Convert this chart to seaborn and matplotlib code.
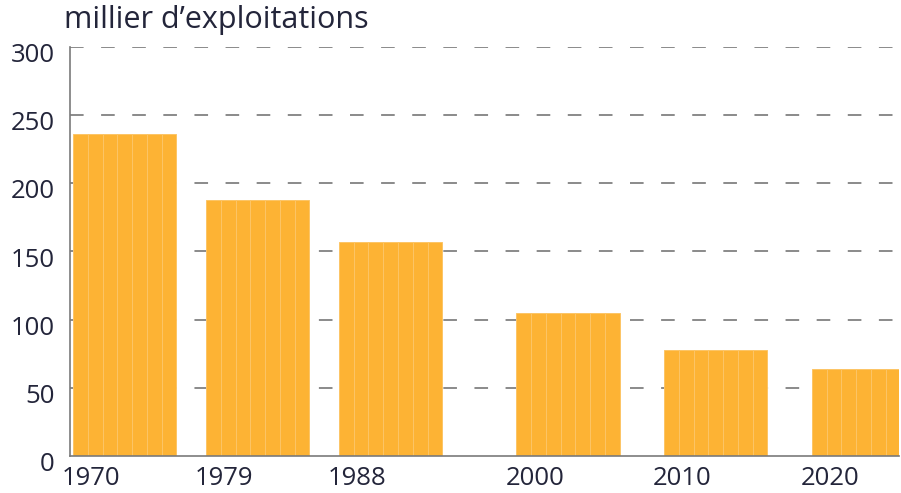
import pandas as pd
import seaborn as sns
import matplotlib.pyplot as plt
from matplotlib.transforms import ScaledTranslation

# census years and number of farms (thousands)
years = [1970, 1979, 1988, 2000, 2010, 2020]
farms = [236, 188, 157, 105, 78, 64]
tick_labels = ["1970", "1979", "1988", "2000", "2010", "2020"]
span = 7  # each census bar covers 7 yearly slices

rows = []
for y, v in zip(years, farms):
    for k in range(span):
        rows.append({"year": y + k, "farms": v})
df = pd.DataFrame(rows)

sns.set_style("white")
plt.rcParams['font.family'] = ['Open Sans', 'DejaVu Sans']
text_color = "#23253a"

fig = plt.figure(figsize=(9.01, 4.93), dpi=100)
ax = fig.add_axes([70 / 901, 1 - 456 / 493, 829 / 901, 409 / 493])

sns.barplot(data=df, x="year", y="farms", native_scale=True, width=1,
            color="#fdb334", saturation=1, errorbar=None,
            edgecolor="#fcc566", linewidth=0.7, ax=ax)

ax.set_xlim(1969.3, 2025.4)
ax.set_ylim(0, 300)
ax.set_yticks(range(0, 301, 50))
ax.set_xticks([y + 0.75 for y in years])
ax.set_xticklabels(tick_labels)
ax.set_xlabel("")
ax.set_ylabel("")

for g in range(50, 301, 50):
    ax.axhline(g, color="#8a8a8a", lw=1.4, ls=(0, (7, 9)), zorder=0)

ax.tick_params(axis="both", length=0, labelsize=18.5, colors=text_color)
ax.tick_params(axis="x", pad=7)
ax.tick_params(axis="y", pad=11)
# y labels sit a little below their gridline in the original
for lab in ax.get_yticklabels():
    lab.set_transform(lab.get_transform() + ScaledTranslation(0, -4 / 72, fig.dpi_scale_trans))
for s in ["top", "right"]:
    ax.spines[s].set_visible(False)
for s in ["left", "bottom"]:
    ax.spines[s].set_color("#7a7a7a")
    ax.spines[s].set_linewidth(1.2)

fig.text(64 / 901, 1 - 28 / 493, "millier d\u2019exploitations",
         fontsize=22, color=text_color, va="baseline", ha="left")

fig.savefig("out.png", dpi=100)
